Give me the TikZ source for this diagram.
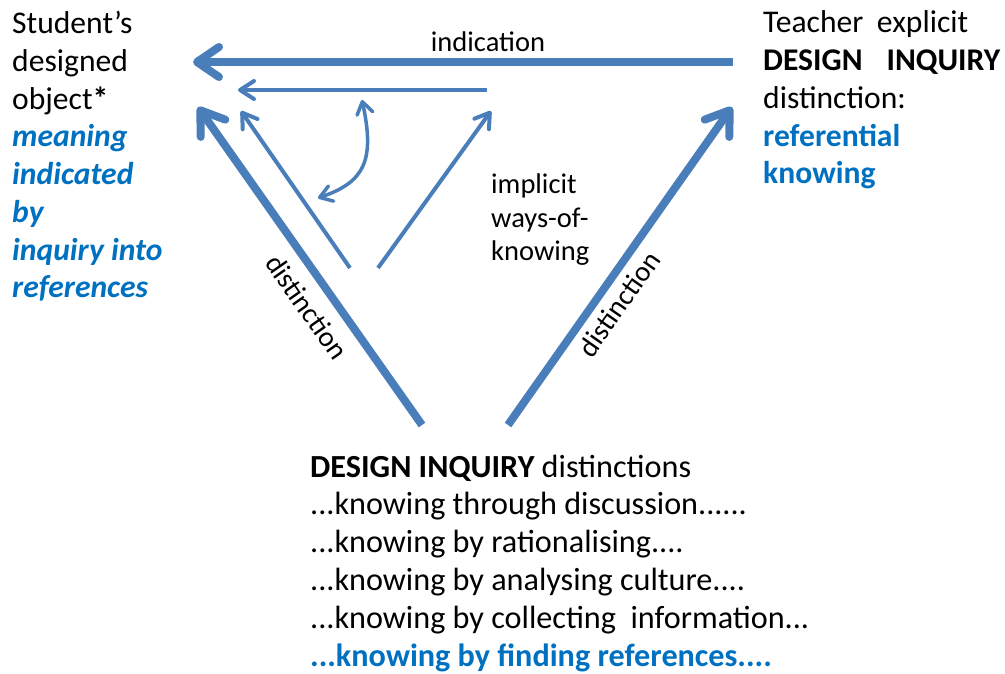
\documentclass[tikz,border=0pt]{standalone}
\usepackage{fontspec}
\setmainfont{Carlito}
\usetikzlibrary{arrows.meta}
\definecolor{arrowblue}{HTML}{4A7EBB}
\definecolor{textblue}{HTML}{0070C0}

\begin{document}
\begin{tikzpicture}[x=1pt,y=-1pt,
  bigtext/.style={font=\fontsize{31.6}{37.8}\selectfont, inner sep=0pt, align=left},
  listtext/.style={font=\fontsize{32.2}{37.8}\selectfont, inner sep=0pt, align=left},
  smalltext/.style={font=\fontsize{28.5}{34}\selectfont, inner sep=0pt},
  thickarrow/.style={draw=arrowblue, line width=8pt, -{Straight Barb[length=22pt,width=30pt,round]}},
  thinarrow/.style={draw=arrowblue, line width=4pt, -{Straight Barb[length=14pt,width=18pt,round]}},
  bentarrow/.style={draw=arrowblue, line width=3.5pt,
    {Straight Barb[length=12pt,width=16pt,round]}-{Straight Barb[length=12pt,width=16pt,round]}}
]
\useasboundingbox (0,0) rectangle (1005,674);

% arrow end points
\coordinate (topR) at (733,62);
\coordinate (topL) at (193,62);
\coordinate (midR) at (487,90);
\coordinate (midL) at (238,90);
\coordinate (thickLbot) at (422,425);
\coordinate (thickLtip) at (198,107);
\coordinate (thickRbot) at (508,425);
\coordinate (thickRtip) at (732,107);
\coordinate (thinLbot) at (350,268);
\coordinate (thinLtip) at (241,111);
\coordinate (thinRbot) at (378,268);
\coordinate (thinRtip) at (491,111);
\coordinate (bentTop) at (362,100);
\coordinate (bentBot) at (318,198);

% connectors
\draw[thickarrow] (topR) -- (topL);
\draw[thinarrow] (midR) -- (midL);
\draw[thickarrow] (thickLbot) -- (thickLtip);
\draw[thickarrow] (thickRbot) -- (thickRtip);
\draw[thinarrow] (thinLbot) -- (thinLtip);
\draw[thinarrow] (thinRbot) -- (thinRtip);
\draw[bentarrow] (bentTop) .. controls (375,160) and (365,182) .. (bentBot);

% corner texts (base anchor sits on the last line)
\node[bigtext, anchor=base west] (student) at (12,298)
  {Student’s\\designed\\object\textbf{*}\\
   \textcolor{textblue}{\bfseries\itshape meaning}\\
   \textcolor{textblue}{\bfseries\itshape indicated}\\
   \textcolor{textblue}{\bfseries\itshape by}\\
   \textcolor{textblue}{\bfseries\itshape inquiry into}\\
   \textcolor{textblue}{\bfseries\itshape references}};

\node[bigtext, anchor=base west] (teacher) at (763,184)
  {\makebox[205pt][s]{Teacher explicit}\\
   \makebox[237pt][s]{\bfseries DESIGN INQUIRY}\\
   distinction:\\
   \textcolor{textblue}{\bfseries referential}\\
   \textcolor{textblue}{\bfseries knowing}};

\node[listtext, anchor=base west] (inquiry) at (310,666)
  {{\bfseries DESIGN INQUIRY} distinctions\\
   ...knowing through discussion......\\
   ...knowing by rationalising....\\
   ...knowing by analysing culture....\\
   ...knowing by collecting\ \ information...\\
   \textcolor{textblue}{\bfseries ...knowing by finding references....}};

% connector labels
\node[smalltext, anchor=base] (indication) at (488,52) {indication};
\node[smalltext, align=left, anchor=base west] (implicit) at (491,261)
  {implicit\\ways-of-\\knowing};
\node[smalltext, rotate=-54.9] (distL) at (307,307) {distinction};
\node[smalltext, rotate=54.9] (distR) at (619,304) {distinction};
\end{tikzpicture}
\end{document}
